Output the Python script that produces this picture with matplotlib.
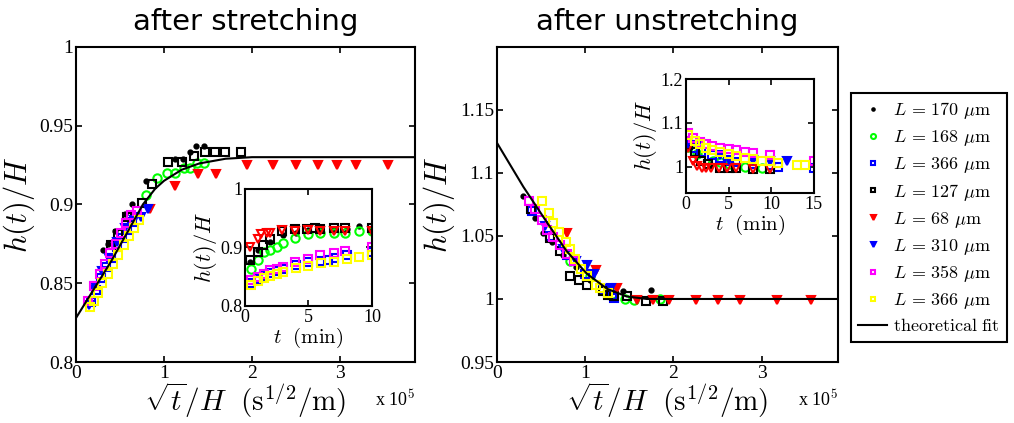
import numpy as np
import matplotlib.pyplot as plt

plt.rcParams['font.family'] = ['Liberation Serif', 'DejaVu Serif']
plt.rcParams['mathtext.fontset'] = 'cm'

# --- after stretching: main plot (x in units of 1e5 s^1/2/m) ---
fit1_x = [0, 0.2, 0.4, 0.6, 0.76, 0.9, 1.0, 1.2, 1.4, 1.7, 2.0, 3.85]
fit1_y = [0.828, 0.846, 0.864, 0.884, 0.900, 0.910, 0.915, 0.922, 0.926, 0.929, 0.930, 0.930]

s_dot_x = [0.31, 0.36, 0.44, 0.56, 0.64, 0.80, 1.12, 1.22, 1.30, 1.36, 1.45]
s_dot_y = [0.871, 0.875, 0.883, 0.894, 0.900, 0.915, 0.929, 0.929, 0.933, 0.937, 0.937]
s_grn_x = [0.80, 0.92, 1.03, 1.13, 1.23, 1.30, 1.38, 1.45]
s_grn_y = [0.906, 0.917, 0.920, 0.920, 0.923, 0.923, 0.926, 0.926]
s_bsq_x = [0.17, 0.23, 0.28, 0.34, 0.40, 0.46, 0.52, 0.58, 0.64]
s_bsq_y = [0.838, 0.846, 0.853, 0.860, 0.866, 0.873, 0.879, 0.884, 0.889]
s_ksq_x = [0.40, 0.48, 0.58, 0.75, 0.86, 1.05, 1.21, 1.34, 1.47, 1.58, 1.69, 1.88]
s_ksq_y = [0.874, 0.881, 0.892, 0.901, 0.913, 0.927, 0.927, 0.931, 0.933, 0.933, 0.933, 0.933]
s_red_x = [0.84, 1.13, 1.39, 1.59, 1.94, 2.24, 2.50, 2.75, 2.97, 3.18, 3.55]
s_red_y = [0.897, 0.912, 0.919, 0.919, 0.925, 0.925, 0.925, 0.925, 0.925, 0.925, 0.925]
s_btr_x = [0.15, 0.22, 0.30, 0.38, 0.47, 0.56, 0.66, 0.74, 0.82]
s_btr_y = [0.836, 0.848, 0.858, 0.866, 0.876, 0.885, 0.890, 0.892, 0.897]
s_mag_x = [0.14, 0.20, 0.27, 0.33, 0.39, 0.45, 0.51, 0.57, 0.63, 0.69]
s_mag_y = [0.839, 0.848, 0.856, 0.862, 0.869, 0.875, 0.882, 0.888, 0.893, 0.896]
s_yel_x = [0.16, 0.20, 0.25, 0.30, 0.36, 0.42, 0.48, 0.54, 0.60, 0.66, 0.72]
s_yel_y = [0.835, 0.839, 0.844, 0.850, 0.856, 0.862, 0.868, 0.874, 0.880, 0.885, 0.890]

# --- after stretching: inset (t in min) ---
si_dot_t = [0.4, 1.0, 2.0, 3.0, 4.0, 5.0, 6.0, 7.0, 8.0, 9.0, 10.0]
si_dot_y = [0.875, 0.895, 0.910, 0.922, 0.925, 0.930, 0.930, 0.930, 0.932, 0.937, 0.934]
si_ksq_t = [0.4, 1.0, 1.45, 2.0, 2.9, 3.95, 4.9, 5.5, 5.9, 7.0, 7.9, 10.0]
si_ksq_y = [0.878, 0.893, 0.904, 0.914, 0.929, 0.931, 0.931, 0.934, 0.931, 0.934, 0.934, 0.934]
si_red_t = [0.4, 1.0, 1.3, 1.7, 2.0, 2.9, 3.95, 5.0, 5.9, 7.0, 7.9, 10.0]
si_red_y = [0.901, 0.914, 0.923, 0.924, 0.924, 0.930, 0.929, 0.930, 0.929, 0.929, 0.929, 0.929]
si_grn_t = [0.45, 1.05, 1.5, 2.0, 2.5, 3.0, 3.95, 5.0, 5.9, 7.0, 7.9, 8.95, 10.0]
si_grn_y = [0.864, 0.878, 0.893, 0.895, 0.901, 0.908, 0.917, 0.923, 0.924, 0.925, 0.925, 0.929, 0.929]
si_mag_t = [0.45, 1.05, 1.5, 2.0, 2.5, 3.0, 3.95, 5.0, 5.9, 7.0, 7.9, 10.0]
si_mag_y = [0.844, 0.849, 0.855, 0.861, 0.864, 0.867, 0.875, 0.881, 0.887, 0.891, 0.894, 0.900]
si_bsq_t = [0.4, 1.0, 1.5, 2.0, 2.5, 3.0, 4.0, 5.0, 6.0, 6.5, 7.0, 8.0, 10.0]
si_bsq_y = [0.840, 0.846, 0.852, 0.857, 0.860, 0.863, 0.870, 0.875, 0.877, 0.878, 0.882, 0.888, 0.893]
si_yel_t = [0.45, 1.0, 1.5, 2.0, 2.5, 3.0, 4.0, 5.0, 6.0, 7.0, 8.0, 9.0, 10.0]
si_yel_y = [0.836, 0.842, 0.848, 0.852, 0.855, 0.858, 0.865, 0.869, 0.873, 0.876, 0.881, 0.884, 0.887]

# --- after unstretching: main plot ---
fit2_x = [0, 0.30, 0.565, 0.79, 1.02, 1.25, 1.47, 1.7, 3.86]
fit2_y = [1.124, 1.089, 1.061, 1.038, 1.020, 1.008, 1.002, 1.000, 1.000]

u_dot_x = [0.30, 0.43, 0.52, 0.62, 0.75, 0.90, 1.05, 1.29, 1.43, 1.75]
u_dot_y = [1.0815, 1.064, 1.052, 1.045, 1.035, 1.025, 1.015, 1.009, 1.006, 1.007]
u_grn_x = [0.83, 1.05, 1.30, 1.45, 1.55, 1.85]
u_grn_y = [1.030, 1.018, 1.004, 1.000, 0.999, 1.000]
u_bsq_x = [0.40, 0.60, 0.80, 1.00, 1.20, 1.30, 1.33]
u_bsq_y = [1.070, 1.050, 1.035, 1.020, 1.008, 1.003, 1.001]
u_ksq_x = [0.39, 0.60, 0.71, 0.83, 0.93, 1.02, 1.20, 1.26, 1.33, 1.47, 1.69, 1.88]
u_ksq_y = [1.071, 1.048, 1.038, 1.018, 1.015, 1.011, 1.006, 1.003, 1.002, 1.002, 0.998, 0.998]
u_red_x = [0.80, 1.12, 1.36, 1.59, 1.77, 1.95, 2.26, 2.51, 2.75, 3.17, 3.56]
u_red_y = [1.052, 1.023, 1.009, 0.999, 0.999, 0.999, 0.999, 0.999, 0.999, 0.999, 0.999]
u_btr_x = [0.55, 0.75, 0.90, 1.02, 1.10, 1.29]
u_btr_y = [1.058, 1.040, 1.030, 1.027, 1.020, 1.009]
u_mag_x = [0.36, 0.43, 0.51, 0.57, 0.64, 0.71, 0.79, 0.87]
u_mag_y = [1.078, 1.071, 1.063, 1.055, 1.049, 1.043, 1.036, 1.030]
u_yel_x = [0.51, 0.59, 0.64, 0.70, 0.78, 0.83, 0.89, 0.95, 1.02, 1.12, 1.17, 1.26]
u_yel_y = [1.078, 1.068, 1.060, 1.053, 1.045, 1.040, 1.032, 1.024, 1.018, 1.011, 1.009, 1.005]

# --- after unstretching: inset ---
ui_dot_t = [0.27, 1.25, 2.8]
ui_dot_y = [1.051, 1.030, 1.006]
ui_mag_t = [0.27, 0.86, 1.64, 2.4, 3.0, 4.0, 5.0, 5.9, 6.9, 7.9, 9.9, 15.0]
ui_mag_y = [1.077, 1.065, 1.057, 1.051, 1.048, 1.043, 1.040, 1.037, 1.034, 1.031, 1.026, 1.012]
ui_yel_t = [0.27, 1.05, 1.64, 2.4, 3.1, 4.0, 5.0, 5.9, 6.9, 7.9, 8.9, 9.9, 10.8, 13.0, 13.9]
ui_yel_y = [1.073, 1.059, 1.051, 1.043, 1.038, 1.034, 1.030, 1.024, 1.020, 1.018, 1.014, 1.012, 1.008, 1.005, 1.003]
ui_bsq_t = [0.27, 1.05, 1.8, 3.0, 4.0, 5.0, 5.9, 7.9, 9.9, 10.8, 15.0]
ui_bsq_y = [1.053, 1.043, 1.034, 1.026, 1.020, 1.014, 1.010, 1.006, 1.004, 1.000, 0.998]
ui_btr_t = [0.27, 1.25, 4.0, 5.0, 7.9, 9.9, 11.9]
ui_btr_y = [1.057, 1.049, 1.026, 1.016, 1.016, 1.012, 1.012]
ui_ksq_t = [0.27, 1.05, 1.8, 2.6, 4.0, 5.0, 5.9, 7.9, 9.9]
ui_ksq_y = [1.049, 1.034, 1.012, 1.006, 0.998, 0.997, 0.997, 0.995, 0.995]
ui_grn_t = [0.27, 1.25, 3.2, 4.0, 5.0, 6.9, 8.9]
ui_grn_y = [1.045, 1.030, 1.014, 1.010, 1.006, 1.000, 0.997]
ui_red_t = [0.27, 0.86, 1.33, 1.84, 2.35, 2.9, 3.9, 4.8, 5.9, 7.9, 9.9]
ui_red_y = [1.043, 1.012, 1.002, 0.997, 0.996, 0.996, 0.996, 0.996, 0.996, 0.995, 0.995]

labels = [r'$L\,=\,170\ \mu\mathrm{m}$', r'$L\,=\,168\ \mu\mathrm{m}$',
          r'$L\,=\,366\ \mu\mathrm{m}$', r'$L\,=\,127\ \mu\mathrm{m}$',
          r'$L\,=\,68\ \mu\mathrm{m}$', r'$L\,=\,310\ \mu\mathrm{m}$',
          r'$L\,=\,358\ \mu\mathrm{m}$', r'$L\,=\,366\ \mu\mathrm{m}$']

GREEN, BLUE, MAG, YEL, RED = '#00ff00', '#0000ff', '#ff00ff', '#ffff00', '#ff0000'


def style(ax, size):
    for sp in ax.spines.values():
        sp.set_linewidth(1.5)
    ax.tick_params(direction='in', top=True, right=True, length=4, width=1.2,
                   labelsize=size, pad=2)


def draw(ax, sets, filled_red, ms=6):
    handles = []
    for (x, y), (mk, col, fill) in zip(sets, [
            ('.', 'k', True), ('o', GREEN, False), ('s', BLUE, False),
            ('s', 'k', False), ('v', RED, filled_red), ('v', BLUE, True),
            ('s', MAG, False), ('s', YEL, False)]):
        if x is None:
            handles.append(None)
            continue
        fc = col if fill else 'none'
        h, = ax.plot(x, y, ls='none', marker=mk, mfc=fc, mec=col, ms=ms, mew=1.5)
        handles.append(h)
    return handles


fig = plt.figure(figsize=(10.14, 4.23), dpi=100)

xlab = r'$\sqrt{t}/H\ \ (\mathrm{s}^{1/2}/\mathrm{m})$'

# ---------- left panel ----------
ax1 = fig.add_axes([0.075, 0.1442, 0.334, 0.745])
draw(ax1, [(s_dot_x, s_dot_y), (s_grn_x, s_grn_y), (s_bsq_x, s_bsq_y),
           (s_ksq_x, s_ksq_y), (s_red_x, s_red_y), (s_btr_x, s_btr_y),
           (s_mag_x, s_mag_y), (s_yel_x, s_yel_y)], True)
ax1.plot(fit1_x, fit1_y, 'k-', lw=1.5)
ax1.set_xlim(0, 3.85)
ax1.set_ylim(0.8, 1.0)
ax1.set_xticks([0, 1, 2, 3])
ax1.set_yticks([0.8, 0.85, 0.9, 0.95, 1.0])
ax1.set_yticklabels(['0.8', '0.85', '0.9', '0.95', '1'])
style(ax1, 14)
ax1.set_xlabel(xlab, fontsize=21, labelpad=-1)
ax1.set_ylabel(r'$h(t)/H$', fontsize=22, labelpad=2)
ax1.set_title('after stretching', fontsize=21, family='DejaVu Sans', pad=12)
ax1.text(1.0, -0.085, r'x 10$^5$', transform=ax1.transAxes, ha='right', va='top',
         fontsize=13)

ins1 = fig.add_axes([0.2416, 0.2766, 0.1252, 0.2766])
draw(ins1, [(si_dot_t, si_dot_y), (si_grn_t, si_grn_y), (si_bsq_t, si_bsq_y),
            (si_ksq_t, si_ksq_y), (si_red_t, si_red_y), (None, None),
            (si_mag_t, si_mag_y), (si_yel_t, si_yel_y)], False)
ins1.set_xlim(0, 10)
ins1.set_ylim(0.8, 1.0)
ins1.set_xticks([0, 5, 10])
ins1.set_yticks([0.8, 0.9, 1.0])
ins1.set_yticklabels(['0.8', '0.9', '1'])
style(ins1, 13)
ins1.set_xlabel(r'$t\ \ (\mathrm{min})$', fontsize=15, labelpad=0)
ins1.set_ylabel(r'$h(t)/H$', fontsize=16, labelpad=1)

# ---------- right panel ----------
ax2 = fig.add_axes([0.490, 0.1442, 0.336, 0.745])
hs = draw(ax2, [(u_dot_x, u_dot_y), (u_grn_x, u_grn_y), (u_bsq_x, u_bsq_y),
                (u_ksq_x, u_ksq_y), (u_red_x, u_red_y), (u_btr_x, u_btr_y),
                (u_mag_x, u_mag_y), (u_yel_x, u_yel_y)], True)
fit_h, = ax2.plot(fit2_x, fit2_y, 'k-', lw=1.5)
ax2.set_xlim(0, 3.86)
ax2.set_ylim(0.95, 1.2)
ax2.set_xticks([0, 1, 2, 3])
ax2.set_yticks([0.95, 1.0, 1.05, 1.1, 1.15])
ax2.set_yticklabels(['0.95', '1', '1.05', '1.1', '1.15'])
style(ax2, 14)
ax2.set_xlabel(xlab, fontsize=21, labelpad=-1)
ax2.set_ylabel(r'$h(t)/H$', fontsize=22, labelpad=2)
ax2.set_title('after unstretching', fontsize=21, family='DejaVu Sans', pad=12)
ax2.text(1.0, -0.085, r'x 10$^5$', transform=ax2.transAxes, ha='right', va='top',
         fontsize=13)

ins2 = fig.add_axes([0.6765, 0.5437, 0.1262, 0.2695])
draw(ins2, [(ui_dot_t, ui_dot_y), (ui_grn_t, ui_grn_y), (ui_bsq_t, ui_bsq_y),
            (ui_ksq_t, ui_ksq_y), (ui_red_t, ui_red_y), (ui_btr_t, ui_btr_y),
            (ui_mag_t, ui_mag_y), (ui_yel_t, ui_yel_y)], False)
ins2.set_xlim(0, 15)
ins2.set_ylim(0.94, 1.2)
ins2.set_xticks([0, 5, 10, 15])
ins2.set_yticks([1.0, 1.1, 1.2])
ins2.set_yticklabels(['1', '1.1', '1.2'])
style(ins2, 13)
ins2.set_xlabel(r'$t\ \ (\mathrm{min})$', fontsize=15, labelpad=0)
ins2.set_ylabel(r'$h(t)/H$', fontsize=16, labelpad=1)

leg = fig.legend(hs + [fit_h], labels + [r'$\mathrm{theoretical\ fit}$'],
                 loc='upper left', bbox_to_anchor=(851 / 1014, 1 - 93 / 423),
                 borderaxespad=0, fontsize=13, markerscale=0.6, handlelength=1.6,
                 handletextpad=0.3, labelspacing=0.38, borderpad=0.4,
                 fancybox=False, edgecolor='k', framealpha=1)
leg.get_frame().set_linewidth(1.5)

fig.savefig('out.png', dpi=100)
